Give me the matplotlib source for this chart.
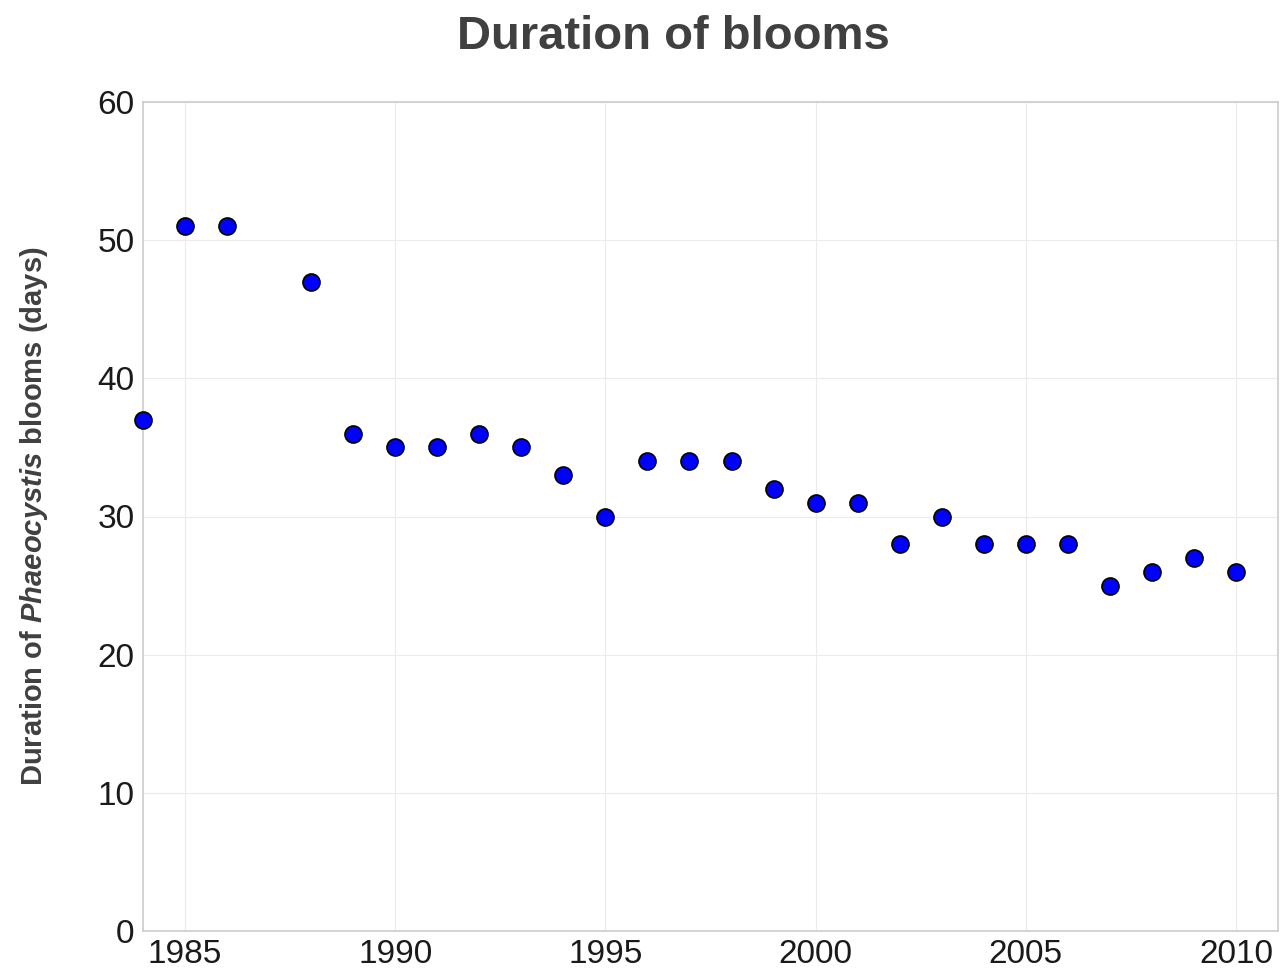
import matplotlib
matplotlib.use("Agg")
import matplotlib.pyplot as plt

# bloom duration per year (1987 missing)
years = [1984, 1985, 1986, 1988, 1989, 1990, 1991, 1992, 1993, 1994, 1995,
         1996, 1997, 1998, 1999, 2000, 2001, 2002, 2003, 2004, 2005, 2006,
         2007, 2008, 2009, 2010]
duration = [37, 51, 51, 47, 36, 35, 35, 36, 35, 33, 30,
            34, 34, 34, 32, 31, 31, 28, 30, 28, 28, 28,
            25, 26, 27, 26]

x_ticks = [1985, 1990, 1995, 2000, 2005, 2010]
y_ticks = [0, 10, 20, 30, 40, 50, 60]

plt.rcParams['font.family'] = ['Liberation Sans', 'DejaVu Sans']
plt.rcParams['mathtext.fontset'] = 'custom'
plt.rcParams['mathtext.it'] = 'Liberation Sans:italic:bold'
plt.rcParams['mathtext.rm'] = 'Liberation Sans:bold'

fig = plt.figure(figsize=(12.82, 9.72), dpi=100)
ax = fig.add_axes([143 / 1282, 1 - 931 / 972, (1278 - 143) / 1282, (931 - 102) / 972])

ax.scatter(years, duration, s=150, color='#0000ff', edgecolor='black',
           linewidth=1.2, zorder=3, clip_on=False)

ax.set_xlim(1984, 2011)
ax.set_ylim(0, 60)
ax.set_xticks(x_ticks)
ax.set_yticks(y_ticks)
ax.tick_params(length=0, labelsize=24, colors='#1a1a1a', pad=6)
ax.grid(True, color='#ebebeb', linewidth=0.8)
ax.set_axisbelow(True)
for s in ax.spines.values():
    s.set_color('#cccccc')
    s.set_linewidth(1.2)

ax.set_ylabel(r'Duration of $\mathit{Phaeocystis}$ blooms (days)',
              fontsize=21, fontweight='bold', color='#404040', labelpad=34)
fig.suptitle('Duration of blooms', fontsize=34, fontweight='bold',
             color='#404040', x=0.525, y=0.985)

fig.savefig('out.png', dpi=100)
